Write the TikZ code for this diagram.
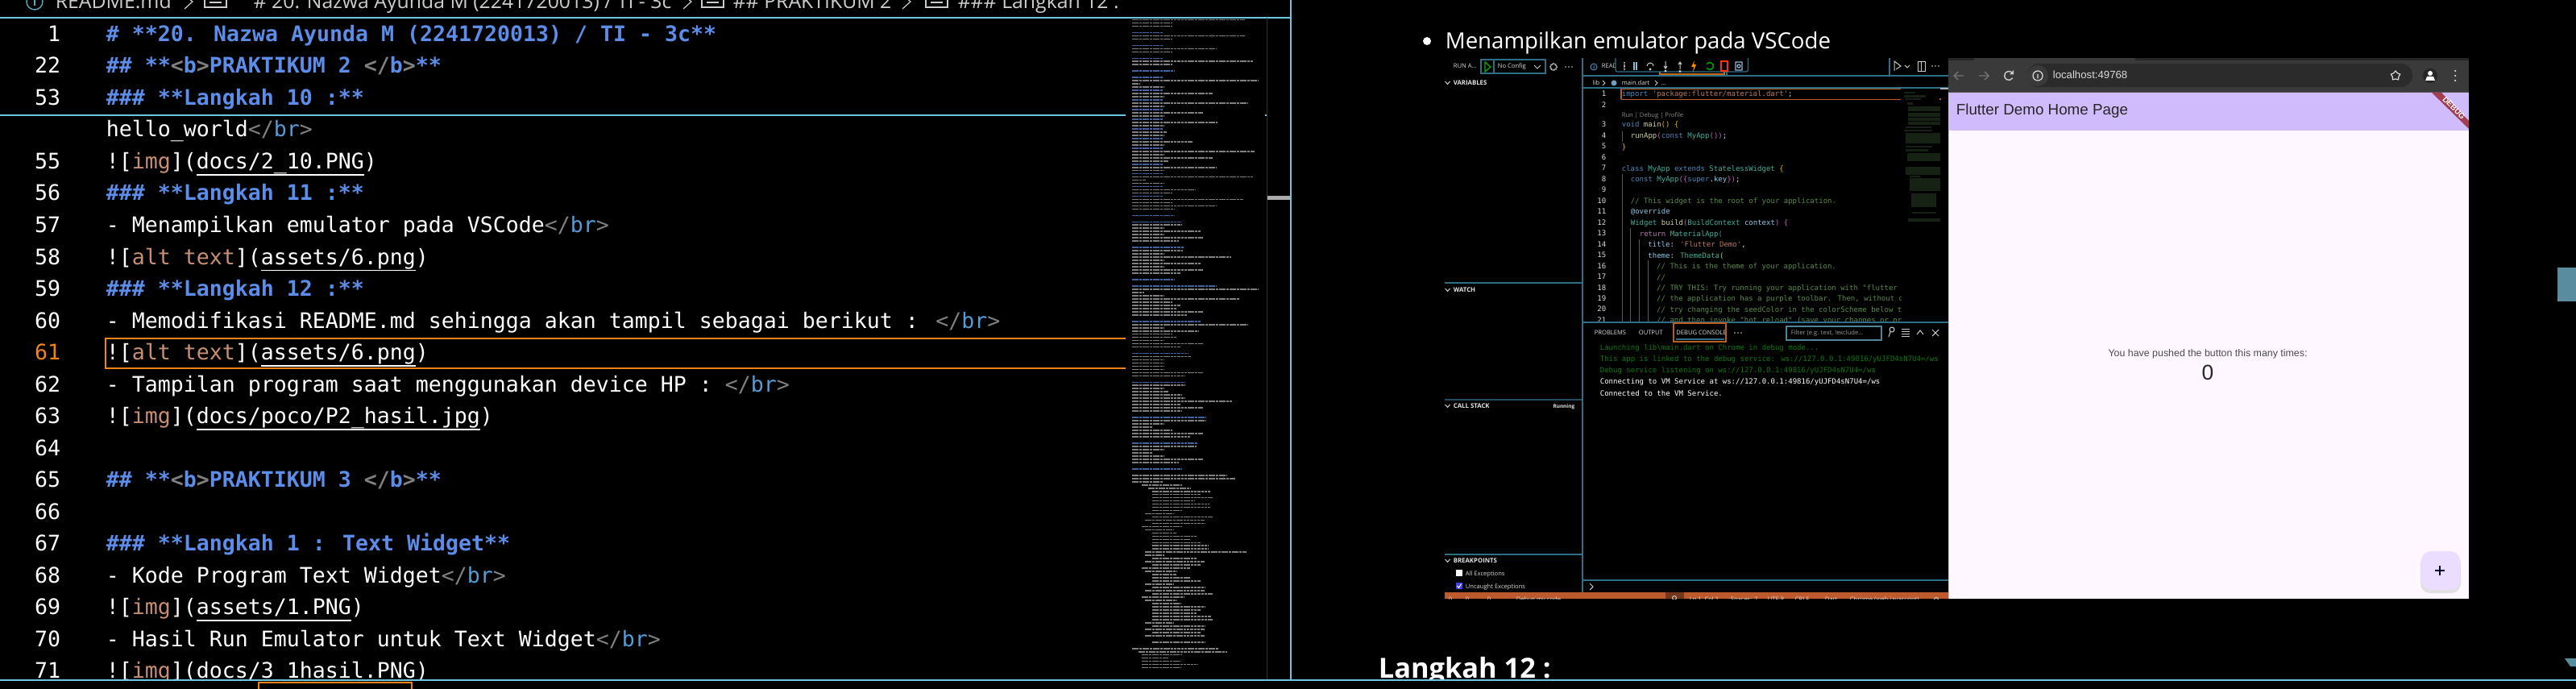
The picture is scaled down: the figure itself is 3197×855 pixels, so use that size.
\documentclass[tikz,border=0pt]{standalone}
\usepackage{fontspec}
\setmainfont{Open Sans}
\newfontfamily\codefont{DejaVu Sans Mono}
\newfontfamily\webfont{Liberation Sans}
\usetikzlibrary{shapes.geometric}
\definecolor{paneblue}{HTML}{6BC5E3}
\definecolor{activeorange}{HTML}{F38518}
\definecolor{headblue}{HTML}{5C8DE8}
\definecolor{tagblue}{HTML}{569CD6}
\definecolor{tagpunct}{HTML}{808080}
\definecolor{altred}{HTML}{C98F75}
\definecolor{vsteal}{HTML}{2F6F86}
\definecolor{vsorange}{HTML}{B85E1E}
\definecolor{statusbar}{HTML}{BC5A2D}
\definecolor{chromebar}{HTML}{3A3A3A}
\definecolor{appbar}{HTML}{D0BCFC}
\definecolor{appbody}{HTML}{FEF7FF}
\definecolor{fabcolor}{HTML}{EADDFF}
\definecolor{ribbon}{HTML}{A33D52}
\definecolor{kwblue}{HTML}{4A86B8}
\definecolor{typeteal}{HTML}{3FAF98}
\definecolor{funyellow}{HTML}{CFCF9F}
\definecolor{varblue}{HTML}{8CC8E8}
\definecolor{comgreen}{HTML}{5A8A4A}
\definecolor{strbrown}{HTML}{B9785A}
\definecolor{ctlpink}{HTML}{B478B0}
\definecolor{gold}{HTML}{E0BC00}
\definecolor{conpink}{HTML}{C060C0}
\definecolor{consgreen}{HTML}{0B7A0B}
\newcommand{\bigcode}{\codefont\fontsize{6.645}{8}\selectfont}
\newcommand{\smallcode}{\codefont\fontsize{2.255}{3}\selectfont}
\newcommand{\brtag}{\textcolor{tagpunct}{</}\textcolor{tagblue}{br}\textcolor{tagpunct}{>}}
\newcommand{\openb}{\textcolor{tagpunct}{<}b\textcolor{tagpunct}{>}}
\newcommand{\closeb}{\textcolor{tagpunct}{</}b\textcolor{tagpunct}{>}}
\newcommand{\alttext}[1]{\textcolor{altred}{#1}}
\newcommand{\linktxt}[1]{\setbox0\hbox{#1}\rlap{\rule[-2.1pt]{\wd0}{.4pt}}\box0}
\newcommand{\kw}[1]{\textcolor{kwblue}{#1}}
\newcommand{\ty}[1]{\textcolor{typeteal}{#1}}
\newcommand{\fun}[1]{\textcolor{funyellow}{#1}}
\newcommand{\vr}[1]{\textcolor{varblue}{#1}}
\newcommand{\com}[1]{\textcolor{comgreen}{#1}}
\newcommand{\str}[1]{\textcolor{strbrown}{#1}}
\newcommand{\ctl}[1]{\textcolor{ctlpink}{#1}}
\newcommand{\gld}[1]{\textcolor{gold}{#1}}
\newcommand{\pnk}[1]{\textcolor{conpink}{#1}}
\newcommand{\threedots}[3]{\foreach \d in {-4,0,4}{\fill[#3] (#1+\d,#2) circle (.9);}}
\tikzset{
  mdline/.style={anchor=base west, inner sep=0pt, text=white, font=\bigcode},
  headline/.style={mdline, text=headblue, font=\bigcode\bfseries},
  gutter/.style={anchor=base east, inner sep=0pt, text=white, font=\bigcode},
  crumb/.style={anchor=base west, inner sep=0pt, text=white!80!black, font=\fontsize{6.2}{7}\selectfont},
  editorline/.style={anchor=base west, inner sep=0pt, text=white!85!black, font=\smallcode},
  editornum/.style={anchor=base east, inner sep=0pt, text=white!85!black, font=\smallcode},
  uilabel/.style={anchor=base west, inner sep=0pt, text=white!85!black, font=\fontsize{1.9}{3}\selectfont},
  uihead/.style={anchor=base west, inner sep=0pt, text=white!90!black, font=\bfseries\fontsize{1.95}{3}\selectfont},
  weblabel/.style={inner sep=0pt, text=black!85, font=\webfont\fontsize{5}{6}\selectfont},
  minirow/.style={line width=.42pt, color=black!50!white, dash pattern=on .9pt off .18pt},
  miniblue/.style={line width=.42pt, color=headblue!70!black, dash pattern=on .9pt off .18pt},
  vsline/.style={color=vsteal, line width=.3pt},
  icon/.style={color=white!80!black, line width=.25pt},
}
\begin{document}
\begin{tikzpicture}[x=.25pt,y=-.25pt]
  \useasboundingbox (0,0) rectangle (3197,855);
  \fill[black] (0,0) rectangle (3197,855);

  % breadcrumb on top of the editor
  \draw[paneblue!85!black, line width=.35pt] (43,2) circle (10);
  \draw[paneblue!85!black, line width=.35pt] (43,-1) -- (43,7);
  \node[crumb] (crumba) at (68,11) {README.md};
  \node[crumb] (crumbb) at (314,11) {\# 20. Nazwa Ayunda M (2241720013) / TI - 3c};
  \node[crumb] (crumbc) at (909,11) {\#\# PRAKTIKUM 2};
  \node[crumb] (crumbd) at (1188,11) {\#\#\# Langkah 12 :};
  \foreach \i in {234,853,1125}{
    \draw[white!80!black, line width=.3pt] (\i-5,-6) -- (\i+5,2) -- (\i-5,11);
  }
  \foreach \i in {254,871,1149}{
    \draw[white!80!black, line width=.3pt] (\i,-6) rectangle (\i+27,9);
    \draw[white!80!black, line width=.3pt] (\i+6,3) -- (\i+21,3);
  }

  % line numbers
  \foreach \n/\r in {1/0,22/1,53/2,55/4,56/5,57/6,58/7,59/8,60/9,62/11,63/12,64/13,65/14,66/15,67/16,68/17,69/18,70/19,71/20}{
    \node[gutter] (ln\n) at (76,{51.5+\r*39.5}) {\n};
  }
  \node[gutter, text=activeorange] (ln61) at (76,446.5) {61};

  % markdown lines
  \node[headline] (md1) at (131,51.5) {\# **20. Nazwa Ayunda M (2241720013) / TI - 3c**};
  \node[headline] (md22) at (131,91) {\#\# **\openb{}PRAKTIKUM 2 \closeb{}**};
  \node[headline] (md53) at (131,130.5) {\#\#\# **Langkah 10 :**};
  \node[mdline] (md54) at (131,170) {hello\_world\brtag};
  \node[mdline] (md55) at (131,209.5) {![\alttext{img}](\linktxt{docs/2\_10.PNG})};
  \node[headline] (md56) at (131,249) {\#\#\# **Langkah 11 :**};
  \node[mdline] (md57) at (131,288.5) {- Menampilkan emulator pada VSCode\brtag};
  \node[mdline] (md58) at (131,328) {![\alttext{alt text}](\linktxt{assets/6.png})};
  \node[headline] (md59) at (131,367.5) {\#\#\# **Langkah 12 :**};
  \node[mdline] (md60) at (131,407) {- Memodifikasi README.md sehingga akan tampil sebagai berikut : \brtag};
  \node[mdline] (md61) at (131,446.5) {![\alttext{alt text}](\linktxt{assets/6.png})};
  \node[mdline] (md62) at (131,486) {- Tampilan program saat menggunakan device HP : \brtag};
  \node[mdline] (md63) at (131,525.5) {![\alttext{img}](\linktxt{docs/poco/P2\_hasil.jpg})};
  \node[headline] (md65) at (131,604.5) {\#\# **\openb{}PRAKTIKUM 3 \closeb{}**};
  \node[headline] (md67) at (131,683.5) {\#\#\# **Langkah 1 : Text Widget**};
  \node[mdline] (md68) at (131,723) {- Kode Program Text Widget\brtag};
  \node[mdline] (md69) at (131,762.5) {![\alttext{img}](\linktxt{assets/1.PNG})};
  \node[mdline] (md70) at (131,802) {- Hasil Run Emulator untuk Text Widget\brtag};
  \node[mdline] (md71) at (131,841.5) {![\alttext{img}](\linktxt{docs/3\_1hasil.PNG})};

  % active line box and sticky lines
  \draw[activeorange, line width=.4pt] (1397,420) -- (131,420) -- (131,457) -- (1397,457);
  \draw[paneblue, line width=.5pt] (0,22) -- (1602,22);
  \draw[paneblue, line width=.5pt] (0,143) -- (1397,143);

  % minimap of the editor
  \foreach \e [count=\r from 0] in {140,50,50,0,0,140,50,0,0,105,50,0,0,150,50,0,0,0,0,157,9,40,0,100,40,0,143,40,0,88,40,0,106,40,0,43,40,0,75,40,0,152,40,100,45,0,105,40,0,150,17,40,0,78,50,0,138,50,105,52,0,0,0,0,62,40,85,40,88,58,0,0,63,40,123,40,85,40,88,60,0,0,0,0,157,15,40,133,50,60,55,88,68,0,0,143,40,83,50,55,40,88,60,0,0,73,40,40,40,40,88,65,0,0,65,40,45,62,65,124,60,88,62,0,0,92,40,25,50,88,72,0,0,80,40,25,40,88,58,0,0,0,118,128,38}{
    \ifnum\e>0
      \draw[minirow] (1405,{24.6+\r*3.98}) -- ++(\e,0);
    \fi
  }
  \foreach \r/\s/\e in {145/12/62,146/20/72,147/25/97,148/25/85,149/25/100,150/25/78,151/25/96,152/25/97,153/25/62,154/16/52,155/25/100,156/16/90,157/25/90,158/12/62,159/16/52,160/25/55,161/25/80,162/25/72,163/25/85,164/25/95,165/25/95,166/16/142,167/16/40,168/25/80,169/16/90,170/25/85,171/12/72,172/16/55,173/25/55,174/25/72,175/25/85,176/16/52,177/25/90,178/16/90,179/25/100,180/12/65,181/16/55,182/25/60,183/25/90,184/25/85,185/25/80,186/25/98,187/25/100,188/16/52,189/25/90,190/16/90,191/25/85,192/16/90,194/25/90,196/0/108,197/8/118,198/12/62,199/12/45,200/12/60,201/12/82,202/12/60}{
    \draw[minirow] ({1405+\s},{24.6+\r*3.98}) -- ++(\e-\s,0);
  }
  \foreach \r/\e in {4/38,8/38,12/38,16/52,18/38,22/38,25/38,28/38,31/38,34/38,37/38,40/38,45/38,48/38,52/38,55/38,61/52,63/62,71/64,81/52,83/105,94/85,104/70,113/66,124/92,132/82,140/62}{
    \draw[miniblue] (1405,{24.6+\r*3.98}) -- ++(\e,0);
  }
  \draw[black!80!white, line width=.25pt] (1572,22) -- (1572,844);
  \fill[white!67!black] (1573,243) rectangle (1601,248);
  \fill[paneblue] (1570,142) rectangle (1572,144);
  \draw[paneblue, line width=.6pt] (1602,0) -- (1602,844);

  % right pane, document text
  \fill[white] (1771,51) circle (5);
  \node[anchor=base west, inner sep=0pt, text=white, font=\fontsize{6.9}{9}\selectfont] (bullettext) at (1793,61) {Menampilkan emulator pada VSCode};
  \node[anchor=base west, inner sep=0pt, text=white, font=\bfseries\fontsize{8.6}{10}\selectfont] (stephead) at (1710,841) {Langkah 12 :};

  % run and debug side bar
  \node[uilabel] (runlabel) at (1803,85) {RUN A...};
  \draw[vsteal, line width=.3pt] (1838,74) rectangle (1918,91) (1854,74) -- (1854,91);
  \draw[green!70!black, line width=.3pt] (1843,77) -- (1850,83) -- (1843,89) -- cycle;
  \node[uilabel] (configlabel) at (1858,85) {No Config};
  \draw[icon] (1904,81) -- (1908,85) -- (1912,81);
  \draw[icon, dash pattern=on .3pt off .2pt, line width=.45pt] (1928,83) circle (4);
  \threedots{1947}{83}{white!80!black}
  \foreach \t/\l/\y in {variables/VARIABLES/103,watch/WATCH/360,callstack/CALL STACK/504,breakpoints/BREAKPOINTS/696}{
    \node[uihead] (\t) at (1803,\y+2.5) {\l};
    \draw[icon] (1793.5,\y-2) -- (1796.5,\y+1.5) -- (1799.5,\y-2);
  }
  \node[uilabel, anchor=base east, text=white!90!black, font=\bfseries\fontsize{1.6}{3}\selectfont] (running) at (1955,506.5) {Running};
  \draw[vsline] (1793,351) -- (1964,351);
  \draw[vsteal!70!black, line width=.5pt] (1793,496) -- (1964,496);
  \draw[vsline] (1793,688) -- (1964,688);
  \fill[white] (1807,707) rectangle (1815,715);
  \fill[blue!75!white] (1807,723) rectangle (1815,731);
  \draw[white, line width=.25pt] (1808.5,727) -- (1810.5,729.5) -- (1813.5,724.5);
  \node[uilabel] (allexc) at (1818,714) {All Exceptions};
  \node[uilabel] (uncaught) at (1818,730) {Uncaught Exceptions};

  % editor tabs and breadcrumb
  \draw[kwblue, line width=.25pt] (1978,83) circle (4) (1978,81) -- (1978,85.5);
  \node[uilabel] (tabreadme) at (1987,85) {READ};
  \draw[vsline] (1964,94) -- (2418,94);
  \draw[vsline] (2143,89) -- (2143,94) (2345,72) -- (2345,94);
  \draw[activeorange!80!black, line width=.3pt] (2060,89) -- (2060,92) -- (2140,92) -- (2140,89);
  \draw[vsteal, fill=black, line width=.3pt, rounded corners=.6pt] (2005,72) -- (2005,89) -- (2169.5,89) -- (2169.5,72);
  % debug tool bar
  \draw[icon, dash pattern=on .2pt off .25pt, line width=.6pt] (2016,77) -- (2016,87);
  \draw[kwblue!60!white, line width=.35pt] (2028,77) -- (2028,87) (2031,77) -- (2031,87);
  \draw[icon] (2044,82) arc (180:360:4) (2048,86) circle (1);
  \draw[icon] (2067,76) -- (2067,85) (2065,82) -- (2067,85) -- (2069,82) (2067,88) circle (.9);
  \draw[icon] (2085,86) -- (2085,77) (2083,80) -- (2085,77) -- (2087,80) (2085,88.5) circle (.9);
  \fill[orange!90!yellow] (2103,75) -- (2099,83) -- (2102,83) -- (2101,90) -- (2105,80) -- (2102,80) -- cycle;
  \draw[green!60!black, line width=.4pt] (2118.1,84.25) arc (150:-150:4.5);
  \draw[red!60!orange, line width=.4pt] (2136,76) rectangle (2144,88);
  \draw[kwblue!60!white, line width=.3pt] (2154,77) rectangle (2162,87) (2158,82) circle (2);
  \draw[icon] (2351,88) -- (2351,76) -- (2359,82) -- (2353,86) (2364,81) -- (2367,84) -- (2370,81);
  \draw[icon] (2380,77) rectangle (2389,89) (2384.5,77) -- (2384.5,89);
  \threedots{2402}{82}{white!80!black}
  \node[uilabel] (crumblib) at (1976,105.5) {lib};
  \draw[icon] (1989,100) -- (1992,103) -- (1989,106);
  \fill[kwblue!80!white] (2003,103) circle (3.5);
  \node[uilabel] (crumbmain) at (2012,105.5) {main.dart};
  \draw[icon] (2054,100) -- (2057,103) -- (2054,106);
  \node[uilabel] (crumbmore) at (2061,105.5) {...};

  % editor code, cut off at the minimap and the panel
  \begin{scope}
    \clip (1964,110) rectangle (2359,400);
    \foreach \n in {1,...,21}{
      \pgfmathsetmacro{\yy}{\n<3 ? 120+(\n-1)*13.6 : 158+(\n-3)*13.47}
      \node[editornum] (en\n) at (1994,\yy) {\n};
    }
    \node[uilabel, text=white!55!black] (codelens) at (2012,146) {Run | Debug | Profile};
    \draw[white!35!black, line width=.2pt] (2013,163) -- (2013,176) (2013,216) -- (2013,400) (2023.5,283) -- (2023.5,400) (2034.5,297) -- (2034.5,400) (2045,323) -- (2045,400);
    \node[editorline] (c1) at (2012,120) {\kw{import} \str{'package:flutter/material.dart'};};
    \node[editorline] (c3) at (2012,158) {\kw{void} \fun{main}\gld{()} \gld{\{}};
    \node[editorline] (c4) at (2023,171.5) {\fun{runApp}\pnk{(}\kw{const} \ty{MyApp}\pnk{(}\vr{}\pnk{)}\pnk{)};};
    \node[editorline] (c5) at (2012,185) {\gld{\}}};
    \node[editorline] (c7) at (2012,212) {\kw{class} \ty{MyApp} \kw{extends} \ty{StatelessWidget} \gld{\{}};
    \node[editorline] (c8) at (2023,225.5) {\kw{const} \ty{MyApp}\pnk{(\{}\kw{super}.\vr{key}\pnk{\})};};
    \node[editorline] (c10) at (2023,252.5) {\com{// This widget is the root of your application.}};
    \node[editorline] (c11) at (2023,266) {\vr{@override}};
    \node[editorline] (c12) at (2023,279.5) {\ty{Widget} \fun{build}\pnk{(}\ty{BuildContext} \vr{context}\pnk{)} \pnk{\{}};
    \node[editorline] (c13) at (2034,293) {\ctl{return} \ty{MaterialApp}\kw{(}};
    \node[editorline] (c14) at (2044.6,306.5) {\vr{title}: \str{'Flutter Demo'},};
    \node[editorline] (c15) at (2044.6,320) {\vr{theme}: \ty{ThemeData}\gld{(}};
    \node[editorline] (c16) at (2055.4,333.5) {\com{// This is the theme of your application.}};
    \node[editorline] (c17) at (2055.4,347) {\com{//}};
    \node[editorline] (c18) at (2055.4,360) {\com{// TRY THIS: Try running your application with "flutter}};
    \node[editorline] (c19) at (2055.4,373.5) {\com{// the application has a purple toolbar. Then, without quitting}};
    \node[editorline] (c20) at (2055.4,387) {\com{// try changing the seedColor in the colorScheme below to}};
    \node[editorline] (c21) at (2055.4,400.5) {\com{// and then invoke "hot reload" (save your changes or press}};
  \end{scope}
  \draw[vsline] (1964,109) -- (2418,109);
  \draw[vsorange, line width=.3pt] (2012,110.5) -- (2359,110.5) (2012,123.5) -- (2359,123.5) (2012,110.5) -- (2012,123.5);
  \draw[white!70!black, line width=.3pt] (2408,110) -- (2418,110);
  \fill[vsorange] (2407,122.5) rectangle (2409,124.5);
  % small minimap of the code
  \foreach \a/\b/\s/\e in {114/116/2363/2377,118/121/2363/2390,122/124/2365/2384,127/130/2367/2374,132/138/2368/2408,140/145/2368/2408,146/150/2368/2408,151/155/2368/2408,157/159/2365/2397,161/163/2363/2398,165/178/2365/2408,181/183/2365/2398,185/188/2365/2393,190/200/2367/2408,207/217/2365/2408,218/220/2370/2383,221/237/2370/2408,240/257/2372/2403,263/265/2373/2403,271/275/2368/2408}{
    \fill[comgreen!25!black] (\s,\a) rectangle (\e,\b);
  }

  % debug panel
  \draw[vsline] (1964,400) -- (2418,400);
  \node[uilabel] (tabproblems) at (1978,415) {PROBLEMS};
  \node[uilabel] (taboutput) at (2033,415) {OUTPUT};
  \node[uilabel] (tabconsole) at (2079.5,415) {DEBUG CONSOLE};
  \draw[vsorange, line width=.3pt] (2077,401) rectangle (2142,424);
  \draw[vsteal, line width=.4pt] (2079.5,421) -- (2140,421);
  \threedots{2157}{413}{white!80!black}
  \draw[vsteal!85!white, line width=.3pt] (2217,405) rectangle (2335,422);
  \node[uilabel, text=white!60!black] (filter) at (2222,415.5) {Filter (e.g. text, !exclude...};
  \draw[icon] (2348,409) circle (3) (2346,412) -- (2344,418);
  \draw[icon] (2360,408) -- (2370,408) (2360,411) -- (2370,411) (2360,414) -- (2370,414) (2360,417) -- (2370,417);
  \draw[icon] (2379,415) -- (2383,410) -- (2387,415);
  \draw[icon] (2398,409) -- (2406,417) (2406,409) -- (2398,417);
  \node[editorline, text=consgreen] (cons1) at (1985,434) {Launching lib\textbackslash main.dart on Chrome in debug mode...};
  \node[editorline, text=consgreen] (cons2) at (1985,448) {This app is linked to the debug service: ws://127.0.0.1:49816/yUJFD4sN7U4=/ws};
  \node[editorline, text=consgreen] (cons3) at (1985,462) {Debug service listening on ws://127.0.0.1:49816/yUJFD4sN7U4=/ws};
  \node[editorline, text=white] (cons4) at (1985,476.5) {Connecting to VM Service at ws://127.0.0.1:49816/yUJFD4sN7U4=/ws};
  \node[editorline, text=white] (cons5) at (1985,491) {Connected to the VM Service.};
  \draw[vsline] (1964,720) -- (2418,720);
  \draw[icon] (1973,724) -- (1977,728) -- (1973,732);
  \draw[vsline] (1964,72) -- (1964,735);

  % status bar, only its upper part is visible
  \begin{scope}
    \clip (1793,735) rectangle (2418,743);
    \fill[statusbar] (1793,735) rectangle (2418,743);
    \fill[statusbar!60!black] (2067,735) rectangle (2090,743);
    \foreach \t/\l/\x in {sbx/0/1797,sbw/0/1818,sbp/0/1845,sbd/Debug my code/1881,sbl/{Ln 1, Col 1}/2096,sbs/Spaces: 2/2147,sbu/UTF-8/2193,sbc/CRLF/2227,sbr/Dart/2264,sbm/Chrome (web-javascript)/2295}{
      \node[uilabel] (\t) at (\x,746) {\l};
    }
    \draw[icon] (2078,742) circle (2.5) (2403,744) circle (2.5);
  \end{scope}

  % browser window
  \fill[chromebar] (2418,72) rectangle (3064,114);
  \fill[black!85!white] (2418,72) rectangle (3064,75);
  \fill[chromebar] (2450,72) rectangle (2650,76);
  \fill[black!83!white, rounded corners=3.5pt] (2516,79) rectangle (2994,108);
  \fill[chromebar] (2529,94) circle (13);
  \draw[white!85!black, line width=.3pt] (2529,94) circle (6) (2529,92) -- (2529,97.5);
  \draw[white!45!black, line width=.35pt] (2425,94) -- (2437,94) (2430,89) -- (2425,94) -- (2430,99);
  \draw[white!45!black, line width=.35pt] (2456,94) -- (2468,94) (2463,89) -- (2468,94) -- (2463,99);
  \draw[white!80!black, line width=.35pt] (2497.8,96.75) arc (30:320:5.5);
  \fill[white!80!black] (2499,87) -- (2499,92.5) -- (2494,92.5) -- cycle;
  \node[anchor=base west, inner sep=0pt, text=white!85!black, font=\webfont\fontsize{3.3}{4}\selectfont] (urltext) at (2547,98) {localhost:49768};
  \node[star, star points=5, draw=white!85!black, line width=.3pt, inner sep=0pt, minimum size=3pt] (bookmark) at (2973,94) {};
  \fill[black!85!white] (3016,94) circle (9);
  \fill[white] (3016,91) circle (3) (3010,100) -- (3012,95) -- (3020,95) -- (3022,100) -- cycle;
  \foreach \d in {-6,0,6}{
    \fill[white!85!black] (3047,94+\d) circle (1.2);
  }
  \fill[appbar] (2418,115) rectangle (3064,162);
  \fill[appbody] (2418,162) rectangle (3064,743);
  \draw[white!75!black, line width=.25pt] (2418,114) -- (2418,743);
  \draw[black!65!white, line width=.25pt] (2418,114.5) -- (3064,114.5);
  \node[weblabel, anchor=base west, font=\webfont\fontsize{4.7}{6}\selectfont] (apptitle) at (2427,143) {Flutter Demo Home Page};
  \fill[ribbon] (3018,115) -- (3030,115) -- (3064,150) -- (3064,160) -- cycle;
  \node[inner sep=0pt, rotate=-45, text=white, font=\webfont\bfseries\fontsize{2.4}{3}\selectfont] (debugbadge) at (3045.5,134) {DEBUG};
  \node[weblabel, text=black!70, font=\webfont\fontsize{3.1}{4}\selectfont] (counterlabel) at (2740,439) {You have pushed the button this many times:};
  \node[weblabel, font=\webfont\fontsize{6.6}{8}\selectfont] (countervalue) at (2740,462) {0};
  \fill[black!12, rounded corners=3pt] (3004,687) rectangle (3054,736);
  \fill[fabcolor, rounded corners=3pt] (3005,684) rectangle (3053,732);
  \draw[black!80!blue, line width=.3pt] (3022,708) -- (3034,708) (3028,702) -- (3028,714);

  % scrollbar of the right pane
  \fill[vsteal!80!white] (3174,332) rectangle (3197,374);
  \fill[vsteal!80!white] (3183,817) -- (3197,817) -- (3197,827) -- (3190,827) -- cycle;

  % bottom edge
  \fill[black] (0,845) rectangle (3197,855);
  \draw[paneblue, line width=.5pt] (0,844) -- (3197,844);
  \draw[activeorange, line width=.3pt] (321,855) -- (321,847) -- (511,847) -- (511,855);
\end{tikzpicture}
\end{document}
